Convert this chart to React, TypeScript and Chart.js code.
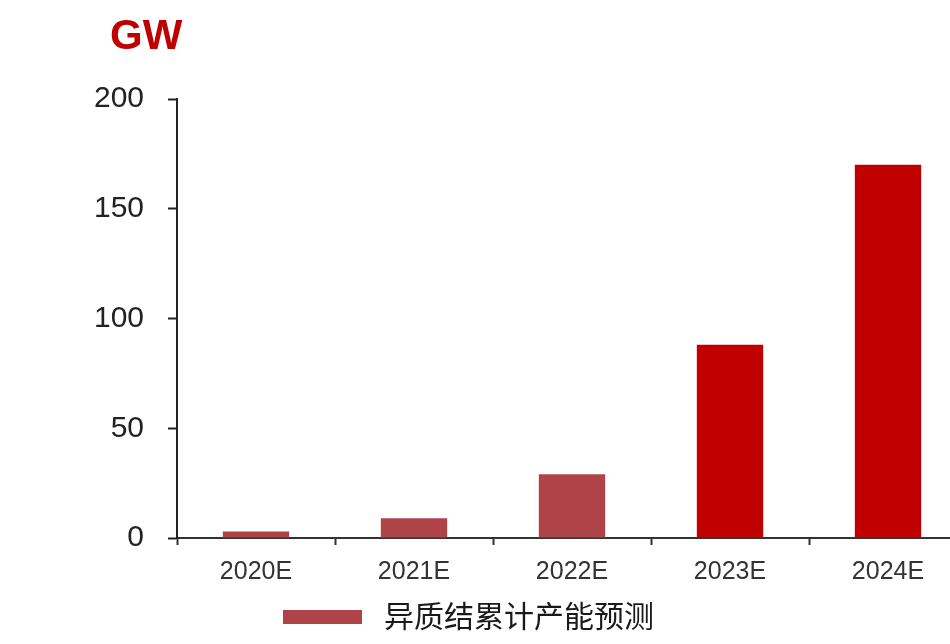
import React, { useEffect, useRef } from "react";
import { Chart, registerables } from "chart.js";

Chart.register(...registerables);

const categories = ["2020E", "2021E", "2022E", "2023E", "2024E"];
const capacity = [3, 9, 29, 88, 170];
const barColors = ["#AE4447", "#AE4447", "#AE4447", "#C00000", "#C00000"];
const seriesLabel = "异质结累计产能预测";
const unitLabel = "GW";
const yMin = 0;
const yMax = 200;
const yStep = 50;

const overlayPlugin = {
  id: "overlayText",
  afterDraw(chart: any) {
    const ctx = chart.ctx;
    ctx.save();
    // unit label
    ctx.fillStyle = "#C00000";
    ctx.font = "bold 42px 'Liberation Sans', Arial, sans-serif";
    ctx.textBaseline = "alphabetic";
    ctx.textAlign = "left";
    ctx.fillText(unitLabel, 110, 49);
    // legend
    const ds = chart.data.datasets[0];
    const color = Array.isArray(ds.backgroundColor) ? ds.backgroundColor[0] : ds.backgroundColor;
    ctx.fillStyle = color;
    ctx.fillRect(283, 610, 79, 14);
    ctx.fillStyle = "#1a1a1a";
    ctx.font = "30px 'Noto Sans CJK SC', sans-serif";
    ctx.textBaseline = "middle";
    ctx.fillText(ds.label, 384, 616);
    ctx.restore();
  },
};

export default function App() {
  const ref = useRef<HTMLCanvasElement | null>(null);
  useEffect(() => {
    if (!ref.current) return;
    const chart = new Chart(ref.current, {
      type: "bar",
      data: {
        labels: categories,
        datasets: [
          {
            label: seriesLabel,
            data: capacity,
            backgroundColor: barColors,
            borderWidth: 0,
            categoryPercentage: 1,
            barPercentage: 0.42,
          },
        ],
      },
      options: {
        animation: false,
        responsive: true,
        maintainAspectRatio: false,
        layout: { padding: { top: 99, right: 3, bottom: 0, left: 0 } },
        plugins: {
          legend: { display: false },
          tooltip: { enabled: false },
          title: { display: false },
        },
        scales: {
          x: {
            offset: true,
            grid: {
              offset: true,
              drawOnChartArea: false,
              drawTicks: true,
              tickLength: 7,
              tickWidth: 2,
              tickColor: "#333",
            },
            border: { display: true, color: "#333", width: 2 },
            ticks: {
              color: "#333",
              font: { family: "'Liberation Sans', Arial, sans-serif", size: 25 },
              padding: 12,
              maxRotation: 0,
            },
            afterFit(scale: any) {
              scale.height = 106;
            },
          },
          y: {
            min: yMin,
            max: yMax,
            grid: {
              drawOnChartArea: false,
              drawTicks: true,
              tickLength: 9,
              tickWidth: 2,
              tickColor: "#222",
            },
            border: { display: true, color: "#222", width: 2 },
            ticks: {
              stepSize: yStep,
              color: "#222",
              font: { family: "'Liberation Sans', Arial, sans-serif", size: 30 },
              padding: 24,
            },
            afterFit(scale: any) {
              scale.width = 177;
            },
          },
        },
      },
      plugins: [overlayPlugin],
    });
    return () => chart.destroy();
  }, []);

  return (
    <div
      style={{
        position: "absolute",
        left: 0,
        top: 0,
        width: 950,
        height: 644,
        overflow: "hidden",
        background: "#fff",
      }}
    >
      <div style={{ position: "relative", width: 970, height: 644 }}>
        <canvas ref={ref} />
      </div>
    </div>
  );
}
